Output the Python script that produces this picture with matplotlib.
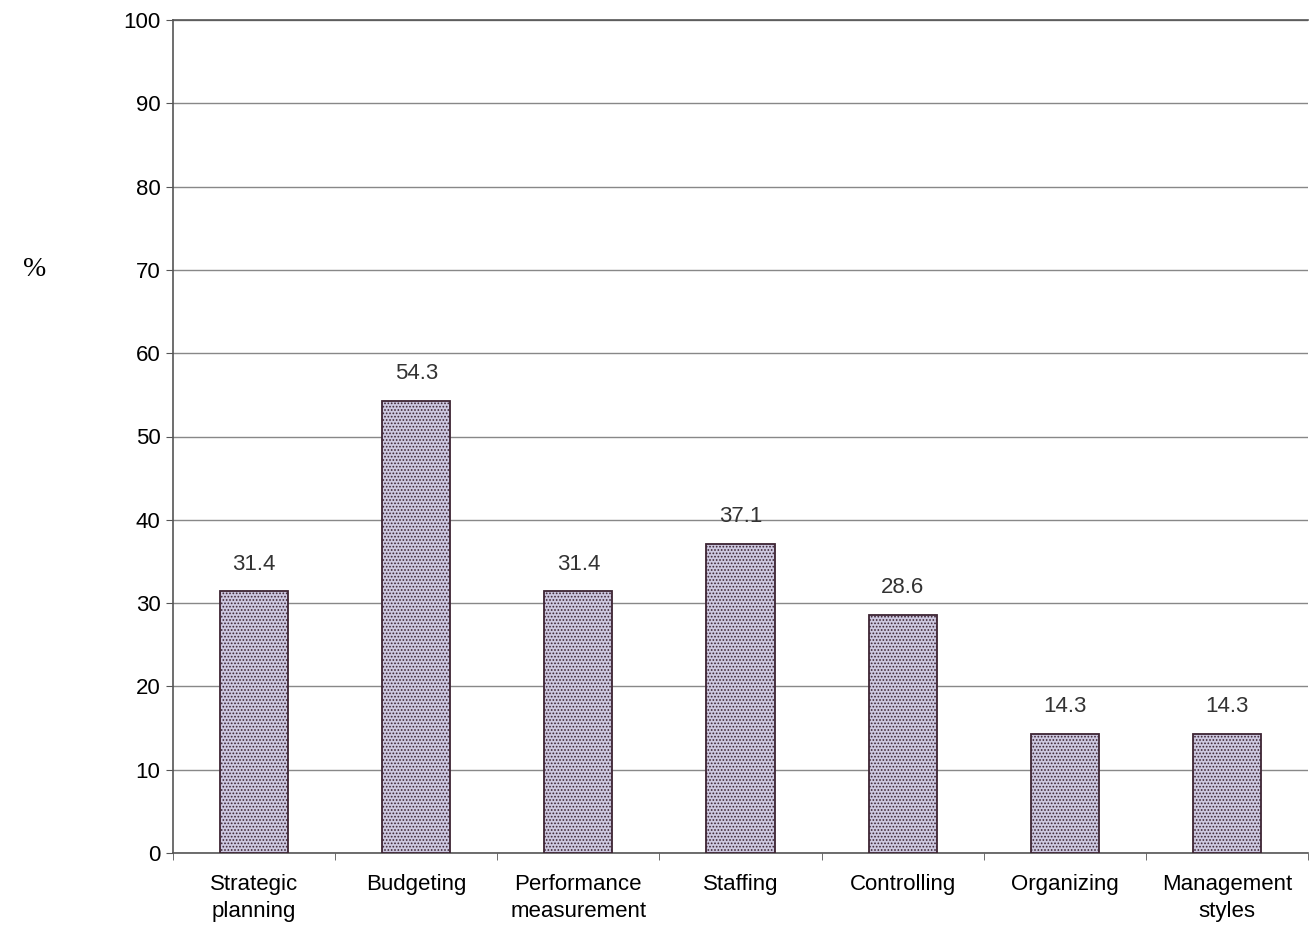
import numpy as np
import matplotlib.pyplot as plt

categories = ["Strategic\nplanning", "Budgeting", "Performance\nmeasurement",
              "Staffing", "Controlling", "Organizing", "Management\nstyles"]
values = [31.4, 54.3, 31.4, 37.1, 28.6, 14.3, 14.3]
y_ticks = [0, 10, 20, 30, 40, 50, 60, 70, 80, 90, 100]

plt.rcParams['font.family'] = ['Liberation Sans', 'DejaVu Sans']
plt.rcParams['hatch.linewidth'] = 0.8
plt.rcParams['hatch.color'] = '#8e8aa6'

fig = plt.figure(figsize=(13.09, 9.26), dpi=100)
ax = fig.add_axes([173 / 1309, 1 - 853 / 926, 1135 / 1309, 833 / 926])

x = np.arange(len(categories))
bars = ax.bar(x, values, width=0.42, color='#cdc8e0', edgecolor='#3d2433',
              linewidth=1.3, hatch='.....', zorder=3)

for xi, v in zip(x, values):
    ax.text(xi, v + 2.0, f"{v:.1f}", ha='center', va='bottom',
            fontsize=16, color='#333333')

ax.set_xlim(-0.5, len(categories) - 0.5)
ax.set_ylim(0, 100)
ax.set_yticks(y_ticks)
ax.tick_params(axis='y', labelsize=16, length=5, color='#555555', pad=4)
ax.yaxis.grid(True, color='#888888', linewidth=1.0, zorder=0)
ax.set_axisbelow(True)

# category labels centred, tick marks between categories
ax.set_xticks(x)
ax.set_xticklabels(categories, fontsize=16, linespacing=1.4)
ax.tick_params(axis='x', length=0, pad=15)
ax.set_xticks(np.arange(-0.5, len(categories), 1), minor=True)
ax.tick_params(axis='x', which='minor', length=5, color='#555555')

for side in ['left', 'bottom', 'top']:
    ax.spines[side].set_color('#555555')
    ax.spines[side].set_linewidth(1.2)
ax.spines['right'].set_visible(False)

fig.text(35 / 1309, 1 - 270 / 926, "%", family=['Liberation Serif', 'DejaVu Serif'],
         fontsize=20, ha='center', va='center')

fig.savefig("out.png", dpi=100)
